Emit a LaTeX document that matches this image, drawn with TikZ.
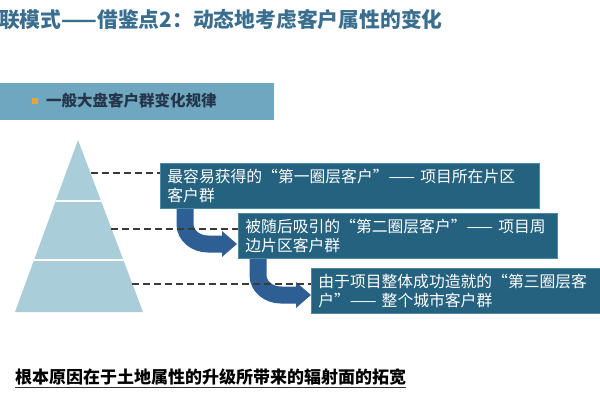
\documentclass[tikz,border=0pt]{standalone}
\usepackage{fontspec}
\setmainfont{Noto Sans CJK SC}
\usetikzlibrary{arrows.meta}
\definecolor{titleblue}{HTML}{3A6E8E}
\definecolor{headerblue}{HTML}{6EA7BF}
\definecolor{headtext}{HTML}{26364A}
\definecolor{sqorange}{HTML}{E8A33A}
\definecolor{pyr}{HTML}{A9CDD9}
\definecolor{boxteal}{HTML}{24627F}
\definecolor{boxedge}{HTML}{4D8AA6}
\definecolor{arrowc}{HTML}{2D5E94}
\definecolor{dashc}{HTML}{3A3A3A}
\newcommand\qopen{\makebox[1em][r]{“}}
\newcommand\qclose{\makebox[1em][l]{”}}
\tikzset{
  infobox/.style={fill=boxteal, draw=boxedge, line width=0.8pt, text=white,
    anchor=north west, minimum height=45pt, inner xsep=7pt, inner ysep=2pt,
    align=left, font=\fontsize{15.8}{18.5}\selectfont},
  bigarrow/.style={draw=arrowc, line width=17pt,
    -{Triangle[length=15pt,width=25pt]}},
  guide/.style={draw=dashc, line width=1.1pt, dash pattern=on 7pt off 4pt}
}
\begin{document}
\begin{tikzpicture}[x=1pt,y=-1pt]
\useasboundingbox (0,0) rectangle (600,400);
\fill[white] (0,0) rectangle (600,400);

% title
\node[anchor=west, inner sep=0, text=titleblue,
  font=\fontsize{20.8}{24}\selectfont\bfseries] (title) at (-1,20)
  {联模式——借鉴点2：动态地考虑客户属性的变化};

% header bar
\node[fill=headerblue, anchor=north west, inner sep=0,
  minimum width=274pt, minimum height=37pt] (bar) at (0,83) {};
\node[fill=sqorange, inner sep=0, minimum size=6pt] (sq) at (35,101) {};
\node[anchor=west, inner sep=0, text=headtext,
  font=\fontsize{15.5}{18}\selectfont\bfseries] (bartext) at (46,101)
  {一般大盘客户群变化规律};

% pyramid
\fill[pyr] (78,140) -- (143,312) -- (15,312) -- cycle;
\begin{scope}
  \clip (78,140) -- (143,312) -- (15,312) -- cycle;
  \draw[white, line width=1.6pt] (0,201) -- (160,201);
  \draw[white, line width=1.6pt] (0,260) -- (160,260);
\end{scope}
\coordinate (d1) at (91,173);
\coordinate (d2) at (111,229);
\coordinate (d3) at (132,284);

% arrows
\coordinate (a1s) at (185,207);
\coordinate (a1e) at (237,244);
\coordinate (a2s) at (258,257);
\coordinate (a2e) at (311,295);
\draw[bigarrow] (a1s) -- (185,224) to[out=-90,in=180] (208,244) -- (a1e);
\draw[bigarrow] (a2s) -- (258,275) to[out=-90,in=180] (281,295) -- (a2e);

% boxes
\node[infobox, minimum width=379pt, text width=365pt] (box1) at (160,163)
  {最容易获得的\qopen 第一圈层客户\qclose —— 项目所在片区\\客户群};
\node[infobox, minimum width=319pt, text width=305pt] (box2) at (238,213)
  {被随后吸引的\qopen 第二圈层客户\qclose —— 项目周\\边片区客户群};
\node[infobox, minimum width=300pt, text width=286pt] (box3) at (311,268)
  {由于项目整体成功造就的\qopen 第三圈层客\\户\qclose —— 整个城市客户群};

% dashed guides
\draw[guide] (d1) -- (d1 -| box1.west);
\draw[guide] (d2) -- (d2 -| box2.west);
\draw[guide] (d3) -- (d3 -| box3.west);

% conclusion
\node[anchor=west, inner sep=0, text=black,
  font=\fontsize{17}{20}\selectfont\bfseries] (concl) at (15,377)
  {根本原因在于土地属性的升级所带来的辐射面的拓宽};
\draw[black!80, line width=1pt] ([yshift=-4pt]concl.base west) -- ([yshift=-4pt]concl.base east);
\end{tikzpicture}
\end{document}
